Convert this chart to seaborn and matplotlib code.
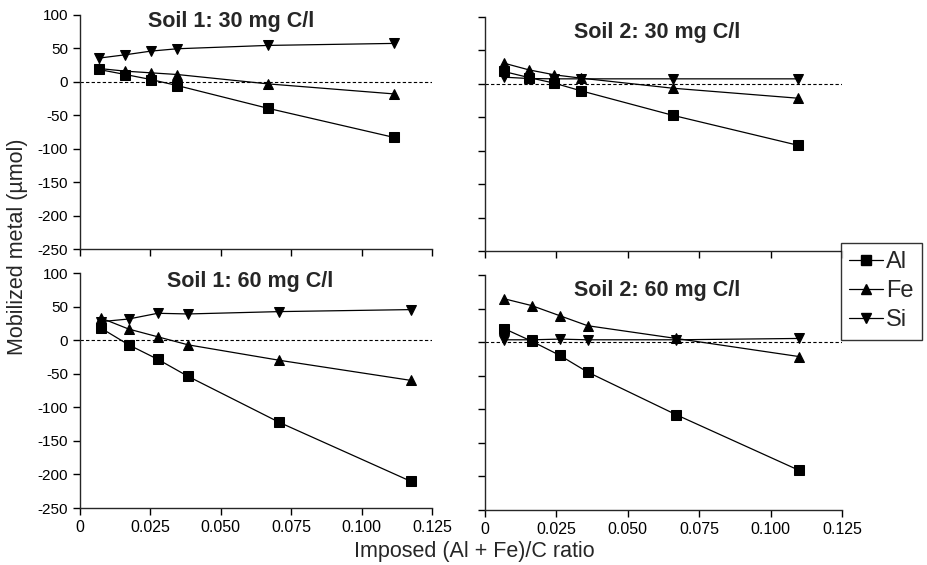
import numpy as np
import pandas as pd
import matplotlib
matplotlib.use('Agg')
import matplotlib.pyplot as plt
from matplotlib.lines import Line2D
import seaborn as sns

# values
metals = ['Al', 'Fe', 'Si']

s1_30_x = [0.0067, 0.0161, 0.0252, 0.0345, 0.0667, 0.1114]
s1_30_al = [18.5, 11, 3.5, -5.5, -39.5, -83]
s1_30_fe = [20, 16, 13.5, 11, -3, -18]
s1_30_si = [35.5, 40.5, 46, 49.5, 54.5, 57.5]

s2_30_x = [0.0066, 0.0153, 0.0243, 0.0337, 0.0657, 0.1097]
s2_30_al = [18.5, 9.5, 1, -10.5, -47, -92]
s2_30_fe = [31, 21, 13.5, 8.5, -6.5, -21.5]
s2_30_si = [10, 8, 7.5, 7.5, 7.5, 7.5]

s1_60_x = [0.0074, 0.0173, 0.0276, 0.0384, 0.0708, 0.1176]
s1_60_al = [18, -7, -28.5, -54, -122.5, -210.5]
s1_60_fe = [33, 16.5, 5, -7, -30, -60]
s1_60_si = [27.5, 31.5, 40, 39, 42.5, 45.5]

s2_60_x = [0.0068, 0.0163, 0.0261, 0.0359, 0.0669, 0.1100]
s2_60_al = [20, 1.5, -19.5, -44.5, -108, -191]
s2_60_fe = [64.5, 54.5, 39.5, 24.5, 5.5, -21.5]
s2_60_si = [3.5, 3.5, 4.5, 3.5, 3.5, 5.5]

panel_titles = ['Soil 1: 30 mg C/l', 'Soil 2: 30 mg C/l',
                'Soil 1: 60 mg C/l', 'Soil 2: 60 mg C/l']
x_ticks = [0, 0.025, 0.05, 0.075, 0.1, 0.125]
x_ticklabels = ['0', '0.025', '0.050', '0.075', '0.100', '0.125']
y_ticks = [100, 50, 0, -50, -100, -150, -200, -250]

panels = [
    (s1_30_x, s1_30_al, s1_30_fe, s1_30_si),
    (s2_30_x, s2_30_al, s2_30_fe, s2_30_si),
    (s1_60_x, s1_60_al, s1_60_fe, s1_60_si),
    (s2_60_x, s2_60_al, s2_60_fe, s2_60_si),
]

sns.set_style('ticks')
plt.rcParams['font.family'] = ['Liberation Sans', 'DejaVu Sans']

W, H = 928, 565
fig = plt.figure(figsize=(W / 100, H / 100), dpi=100)

# axes boxes in pixels: left, top, right, bottom
boxes = [(80, 15, 432, 249), (485, 17, 842, 251),
         (80, 273, 432, 508), (485, 275, 842, 510)]
# title centre x and baseline y, pixels
title_pos = [(231, 27), (657, 38), (250, 287), (657, 296)]

markers = {'Al': 's', 'Fe': '^', 'Si': 'v'}

for i, (x, al, fe, si) in enumerate(panels):
    l, t, r, b = boxes[i]
    ax = fig.add_axes([l / W, 1 - b / H, (r - l) / W, (b - t) / H])
    df = pd.DataFrame({
        'ratio': list(x) * 3,
        'value': list(al) + list(fe) + list(si),
        'metal': [m for m in metals for _ in x],
    })
    ax.axhline(0, color='black', lw=0.8, ls=(0, (3, 2)), zorder=1)
    sns.lineplot(data=df, x='ratio', y='value', style='metal', markers=markers,
                 dashes=False, color='black', lw=0.9, markersize=7.5,
                 markeredgecolor='black', legend=False, ax=ax, zorder=3)
    ax.set_xlim(0, 0.125)
    ax.set_ylim(-250, 100)
    ax.set_xticks(x_ticks)
    ax.set_yticks(y_ticks)
    ax.set_xlabel('')
    ax.set_ylabel('')
    sns.despine(ax=ax)
    for sp in ax.spines.values():
        sp.set_linewidth(1.0)
    ax.tick_params(direction='out', length=5, width=1, colors='black')
    ax.tick_params(axis='x', pad=4)
    if i in (0, 2):
        ax.set_yticklabels([str(v) for v in y_ticks], fontsize=11)
    else:
        ax.tick_params(labelleft=False)
    if i in (2, 3):
        ax.set_xticklabels(x_ticklabels, fontsize=11.5)
    else:
        ax.tick_params(labelbottom=False)
    tx, ty = title_pos[i]
    fig.text(tx / W, 1 - ty / H, panel_titles[i], ha='center',
             va='baseline', fontsize=15.5, fontweight='bold')

fig.text(18 / W, 1 - 247 / H, 'Mobilized metal (\u00b5mol)', rotation=90,
         ha='center', va='center', fontsize=15.5)
fig.text(474 / W, 1 - 551 / H, 'Imposed (Al + Fe)/C ratio', ha='center',
         va='center', fontsize=15.5)

handles = [Line2D([], [], color='black', lw=0.9, marker=markers[m],
                  markersize=7, label=m) for m in metals]
leg = fig.legend(handles=handles, loc='upper left',
                 bbox_to_anchor=(841 / W, 1 - 243 / H),
                 frameon=True, fancybox=False, fontsize=17,
                 handlelength=1.45, handletextpad=0.1, labelspacing=0.3,
                 borderpad=0.35, borderaxespad=0)
leg.get_frame().set_edgecolor('black')
leg.get_frame().set_linewidth(1.0)

fig.savefig('out.png', dpi=100)
